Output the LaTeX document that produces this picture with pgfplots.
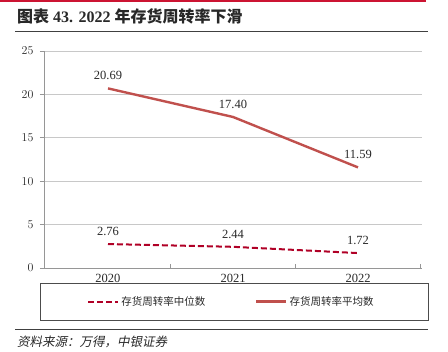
\documentclass[border=0pt]{standalone}
\usepackage{pgfplots}
\pgfplotsset{compat=1.18}
\usepackage{fontspec}
\setmainfont{Liberation Serif}
\newfontfamily\cjk{Noto Sans CJK SC}
\newfontfamily\cjkit[FakeSlant=0.2]{Noto Sans CJK SC}
\definecolor{medc}{RGB}{176,0,38}
\definecolor{avgc}{RGB}{192,80,77}
\definecolor{topred}{RGB}{204,20,50}
\definecolor{gridc}{RGB}{200,200,200}
\definecolor{axc}{RGB}{150,150,150}
\definecolor{txt}{RGB}{40,40,40}
\begin{document}
\begin{tikzpicture}
\path[use as bounding box] (0pt,0pt) rectangle (448pt,-352pt);
\draw[topred, line width=2pt] (0pt,-1pt) -- (426pt,-1pt);
\node[anchor=west, inner sep=0pt, text=txt] at (17pt,-16pt) {\fontsize{16}{16}\selectfont\bfseries{\cjk 图表} 43. 2022 {\cjk 年存货周转率下滑}};
\draw[black!75, line width=1.2pt] (15pt,-31.5pt) -- (428pt,-31.5pt);
\draw[black!75, line width=1pt] (15pt,-330pt) -- (428pt,-330pt);
\node[anchor=west, inner sep=0pt, text=txt] at (17pt,-342pt) {\cjkit\fontsize{12.5}{12.5}\selectfont 资料来源：万得，中银证券};
\draw[black!70, line width=0.8pt] (40pt,-283pt) rectangle (428pt,-320pt);
\begin{axis}[at={(44pt,-268pt)}, anchor=south west, scale only axis,
  width=378pt, height=217pt,
  xmin=-0.512, xmax=2.512, ymin=0, ymax=25,
  ytick={0,5,...,25}, xtick={0,1,2}, xticklabels={2020,2021,2022},
  minor xtick={0.5,1.5,2.5},
  axis x line=bottom, axis y line=left,
  axis line style={draw=axc, -, line width=0.8pt},
  ymajorgrids, grid style={gridc, line width=0.6pt},
  major x tick style={draw=none},
  minor x tick style={draw=axc, line width=0.8pt},
  x tick label style={yshift=-3pt},
  y tick label style={xshift=-3pt},
  ytick style={draw=axc, line width=0.8pt},
  tick align=outside, major tick length=4pt, minor tick length=4pt,
  xtick align=inside,
  tick label style={font=\fontsize{12.5}{12.5}\selectfont, text=txt},
  clip=false,
  nodes near coords, point meta=explicit symbolic,
  every node near coord/.append style={font=\fontsize{12.5}{12.5}\selectfont, text=txt, anchor=south, yshift=4pt},
  legend style={at={(0.496,-0.1544)}, anchor=center, draw=none, fill=none,
    legend columns=2, font=\cjk\fontsize{10.5}{10.5}\selectfont, text=txt,
    /tikz/every even column/.append style={column sep=48pt}},
  legend image code/.code={\draw[#1] (0pt,0pt) -- (30pt,0pt);},
]
\addplot[medc, line width=2pt, dash pattern=on 6pt off 3pt] coordinates {(0,2.76)[2.76] (1,2.44)[2.44] (2,1.72)[1.72]};
\addlegendentry{存货周转率中位数}
\addplot[avgc, line width=2.4pt] coordinates {(0,20.69)[20.69] (1,17.40)[17.40] (2,11.59)[11.59]};
\addlegendentry{存货周转率平均数}
\end{axis}
\end{tikzpicture}
\end{document}
